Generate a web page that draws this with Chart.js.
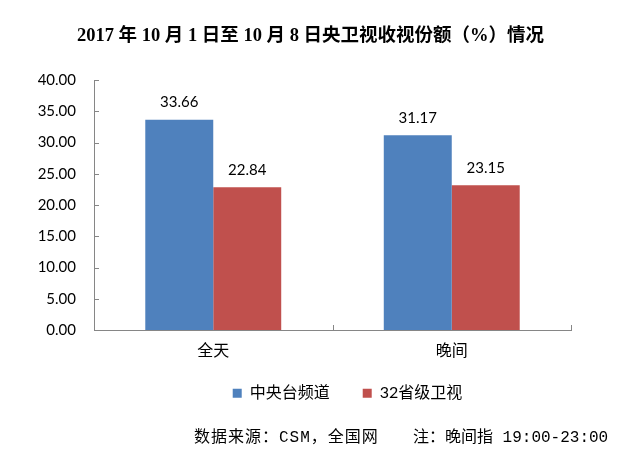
<!DOCTYPE html>
<html><head><meta charset="utf-8">
<script src="https://cdn.jsdelivr.net/npm/chart.js@4.4.1/dist/chart.umd.min.js"></script>
<style>
html,body{margin:0;padding:0;background:#fff;}
#wrap{position:relative;width:629px;height:455px;overflow:hidden;}
canvas{display:block}
.foot{position:absolute;top:428px;font-size:16px;font-family:"Liberation Mono","Noto Sans CJK SC",monospace;color:#000;white-space:pre;line-height:20px;}
</style></head><body>
<div id="wrap"><canvas id="c" width="629" height="455"></canvas>
<div class="foot" style="left:194px;letter-spacing:1px">数据来源：CSM，全国网</div>
<div class="foot" style="left:413px">注：晚间指 19:00-23:00</div>
</div>
<script>
const categories = ['全天', '晚间'];
const seriesNames = ['中央台频道', '32省级卫视'];
const cctvShare = [33.66, 31.17];
const provincialShare = [22.84, 23.15];
const yMin = 0, yMax = 40, yStep = 5;
const titleText = '2017 年 10 月 1 日至 10 月 8 日央卫视收视份额（%）情况';

const BLUE = '#4F81BD', RED = '#C0504D', AXIS = '#868686';
const numFont = 'Lato, "Noto Sans CJK SC", sans-serif';

const valueLabels = {
  id: 'valueLabels',
  afterDatasetsDraw(chart) {
    const ctx = chart.ctx;
    ctx.save();
    ctx.font = '15px ' + numFont;
    ctx.fillStyle = '#000';
    ctx.textAlign = 'center';
    ctx.textBaseline = 'middle';
    chart.data.datasets.forEach((ds, i) => {
      chart.getDatasetMeta(i).data.forEach((bar, j) => {
        ctx.fillText(ds.data[j].toFixed(2), bar.x, bar.y - 17);
      });
    });
    ctx.restore();
  }
};

const innerTicks = {
  id: 'innerTicks',
  afterDraw(chart) {
    const {ctx, chartArea: a, scales: {x, y}} = chart;
    ctx.save();
    ctx.strokeStyle = AXIS;
    ctx.lineWidth = 1;
    ctx.beginPath();
    y.ticks.forEach(t => {
      const py = Math.round(y.getPixelForValue(t.value)) + 0.5;
      ctx.moveTo(a.left, py); ctx.lineTo(a.left + 5, py);
    });
    for (let i = 0; i <= categories.length; i++) {
      const px = Math.round(x.getPixelForValue(i - 0.5)) + 0.5;
      ctx.moveTo(px, a.bottom); ctx.lineTo(px, a.bottom - 5);
    }
    ctx.stroke();
    ctx.restore();
  }
};

const boxShift = {
  id: 'boxShift',
  afterLayout(chart) {
    const lg = chart.legend;
    if (lg) { lg.left += 62; lg.right += 62; lg.top -= 17; lg.bottom -= 17; }
    const tt = chart.titleBlock;
    if (tt) { tt.left += 25; tt.right += 25; }
  }
};

new Chart(document.getElementById('c'), {
  type: 'bar',
  data: {
    labels: categories,
    datasets: [
      {label: seriesNames[0], data: cctvShare, backgroundColor: BLUE, borderWidth: 0},
      {label: seriesNames[1], data: provincialShare, backgroundColor: RED, borderWidth: 0}
    ]
  },
  options: {
    responsive: false,
    animation: false,
    devicePixelRatio: 1,
    layout: {padding: {left: 0, right: 58, top: 0, bottom: 26.8}},
    datasets: {bar: {barPercentage: 1, categoryPercentage: 0.57}},
    plugins: {
      title: {
        display: true, text: titleText, color: '#000',
        font: {family: '"Liberation Serif", "Noto Sans CJK SC", serif', size: 18.5, weight: 'bold'},
        padding: {top: 25, bottom: 32.8}
      },
      legend: {
        position: 'bottom',
        labels: {boxWidth: 9, boxHeight: 9, padding: 33, color: '#000',
          font: {family: numFont, size: 16}}
      },
      tooltip: {enabled: false}
    },
    scales: {
      x: {
        grid: {display: false, drawTicks: false},
        border: {color: AXIS, width: 1},
        ticks: {color: '#000', padding: 10, font: {family: '"Noto Sans CJK SC", sans-serif', size: 16}}
      },
      y: {
        min: yMin, max: yMax,
        grid: {display: false, drawTicks: false},
        border: {color: AXIS, width: 1},
        ticks: {stepSize: yStep, color: '#000', padding: 18, font: {family: numFont, size: 15},
          callback: v => Number(v).toFixed(2)},
        afterFit(s) { s.width = 94; }
      }
    }
  },
  plugins: [valueLabels, innerTicks, boxShift]
});
</script>
</body></html>
